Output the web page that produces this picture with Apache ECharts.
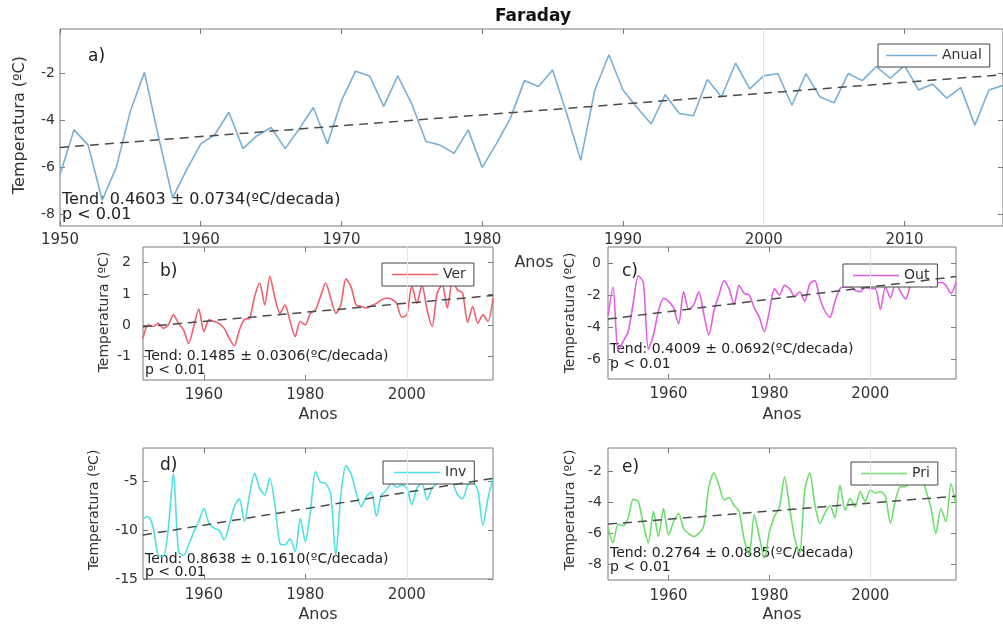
<!DOCTYPE html>
<html>
<head>
<meta charset="utf-8">
<script src="https://cdn.jsdelivr.net/npm/echarts@6/dist/echarts.min.js"></script>
<style>
  html, body { margin: 0; padding: 0; background: #fff; }
  #chart { width: 1003px; height: 627px; }
</style>
</head>
<body>
<div id="chart"></div>
<script>
// anos
const yearsA = [1950, 1951, 1952, 1953, 1954, 1955, 1956, 1957, 1958, 1959,
  1960, 1961, 1962, 1963, 1964, 1965, 1966, 1967, 1968, 1969,
  1970, 1971, 1972, 1973, 1974, 1975, 1976, 1977, 1978, 1979,
  1980, 1981, 1982, 1983, 1984, 1985, 1986, 1987, 1988, 1989,
  1990, 1991, 1992, 1993, 1994, 1995, 1996, 1997, 1998, 1999,
  2000, 2001, 2002, 2003, 2004, 2005, 2006, 2007, 2008, 2009,
  2010, 2011, 2012, 2013, 2014, 2015, 2016, 2017];
const yearsS = [1948, 1949].concat(yearsA);

// temperaturas (ºC)
const anual = [-6.3, -4.4, -5.05, -7.4, -6.0, -3.6, -1.95, -4.7, -7.3, -6.1,
  -5.0, -4.6, -3.65, -5.2, -4.65, -4.3, -5.2, -4.35, -3.45, -5.0,
  -3.15, -1.9, -2.1, -3.4, -2.1, -3.3, -4.9, -5.05, -5.4, -4.4,
  -6.0, -5.0, -3.9, -2.3, -2.55, -1.85, -3.7, -5.7, -2.7, -1.2,
  -2.7, -3.45, -4.15, -2.9, -3.7, -3.8, -2.25, -3.0, -1.55, -2.65,
  -2.1, -2.0, -3.35, -2.0, -3.0, -3.25, -2.0, -2.3, -1.7, -2.2,
  -1.65, -2.7, -2.45, -3.05, -2.6, -4.2, -2.7, -2.5];
const ver = [-0.42, 0.01, -0.04, 0.06, -0.1, 0.01, 0.33, 0.06, -0.15, -0.58,
  -0.04, 0.52, -0.2, 0.17, 0.12, 0.06, -0.1, -0.42, -0.66, -0.15,
  0.19, 0.22, 0.92, 1.35, 0.65, 1.56, 0.87, 0.38, 0.65, 0.12,
  -0.36, 0.12, 0.01, 0.38, 0.49, 0.92, 1.35, 0.87, 0.38, 0.65,
  1.48, 1.24, 0.65, 0.6, 0.55, 0.62, 0.7, 0.81, 0.87, 0.83,
  0.7, 0.26, 0.33, 1.26, 0.7, 1.29, 0.49, -0.04, 1.03, 1.29,
  0.55, 1.4, 1.13, 1.03, 0.09, 0.6, 0.06, 0.33, 0.12, 0.87];
const out = [-3.3, -1.5, -5.5, -4.9, -4.3, -2.5, -0.8, -1.2, -5.4, -4.5,
  -3.0, -2.2, -2.4, -2.8, -3.8, -1.8, -2.9, -2.6, -1.8, -3.2,
  -4.5, -3.0, -2.0, -1.1, -1.6, -2.6, -1.4, -1.9, -2.0, -2.8,
  -3.4, -4.3, -3.0, -1.6, -2.0, -1.4, -1.6, -2.1, -1.8, -2.4,
  -1.3, -1.1, -2.2, -3.0, -3.4, -2.4, -1.6, -1.5, -1.5, -1.7,
  -1.8, -1.5, -1.6, -1.6, -2.9, -1.5, -2.2, -1.3, -1.8, -2.25,
  -1.4, -1.1, -1.4, -1.2, -1.5, -1.3, -1.2, -1.4, -1.9, -1.2];
const inv = [-8.8, -8.6, -9.7, -12.6, -12.7, -9.8, -4.2, -12.2, -12.6, -11.5,
  -10.2, -9.1, -7.8, -9.3, -9.8, -10.0, -11.0, -9.5, -7.6, -6.8,
  -9.1, -6.4, -4.2, -5.7, -6.4, -4.7, -7.4, -11.4, -11.5, -10.9,
  -12.2, -8.8, -11.2, -8.1, -4.0, -5.1, -5.2, -6.3, -12.6, -6.4,
  -3.4, -4.2, -6.1, -7.6, -6.6, -6.1, -8.6, -6.4, -5.9, -5.2,
  -5.6, -5.4, -5.7, -7.4, -5.7, -5.2, -6.9, -5.7, -5.2, -4.7,
  -4.9, -5.1, -6.4, -6.8, -5.4, -5.1, -5.9, -9.5, -6.8, -4.7];
const pri = [-5.6, -6.6, -5.4, -5.5, -5.0, -3.8, -3.95, -5.4, -6.6, -4.6,
  -6.2, -4.4, -6.1, -5.25, -4.7, -5.7, -6.0, -6.2, -6.0, -5.5,
  -3.0, -2.1, -2.9, -3.85, -3.7, -4.2, -4.6, -6.4, -7.4, -4.8,
  -6.2, -7.6, -5.9, -4.9, -4.3, -2.35, -4.3, -6.3, -7.3, -3.2,
  -2.1, -4.1, -5.35, -4.7, -4.2, -5.0, -2.9, -4.5, -3.75, -4.3,
  -3.3, -3.95, -3.2, -3.4, -3.3, -3.6, -5.35, -3.85, -3.0, -3.0,
  -2.55, -2.8, -2.35, -3.2, -4.3, -6.0, -4.4, -5.25, -2.8, -4.2];

// tendência linear: valor no primeiro e no último ano
const trendA = [-5.15, -2.05];
const trendVer = [-0.05, 0.95];
const trendOut = [-3.5, -0.85];
const trendInv = [-10.5, -4.7];
const trendPri = [-5.4, -3.6];

// marcas dos eixos
const ticksXA = [1950, 1960, 1970, 1980, 1990, 2000, 2010];
const ticksXS = [1960, 1980, 2000];
const ticksYA = [-8, -6, -4, -2];
const ticksYVer = [-1, 0, 1, 2];
const ticksYOut = [-6, -4, -2, 0];
const ticksYInv = [-15, -10, -5];
const ticksYPri = [-8, -6, -4, -2];

const textTend = [
  'Tend: 0.4603 ± 0.0734(ºC/decada)',
  'Tend: 0.1485 ± 0.0306(ºC/decada)',
  'Tend: 0.4009 ± 0.0692(ºC/decada)',
  'Tend: 0.8638 ± 0.1610(ºC/decada)',
  'Tend: 0.2764 ± 0.0885(ºC/decada)'
];

const FONT = 'DejaVu Sans';
const AXIS = '#7a7a7a';
const TXT = '#333';

const option = {
  animation: false,
  backgroundColor: '#fff',
  grid: [], xAxis: [], yAxis: [], series: [], legend: [], graphic: []
};

function addPanel(p) {
  const i = option.grid.length;
  option.grid.push(Object.assign({show: true, borderColor: AXIS, borderWidth: 1, backgroundColor: '#fff'}, p.rect));
  const tick = {inside: true, length: 5, lineStyle: {color: AXIS}};
  option.xAxis.push({
    type: 'value', gridIndex: i, min: p.xMin, max: p.xMax, position: 'bottom',
    axisLine: {show: false, onZero: false}, splitLine: {show: false},
    axisTick: Object.assign({customValues: p.xTicks}, tick),
    axisLabel: {customValues: p.xTicks, margin: p.xMargin, color: TXT, fontSize: 15, fontFamily: FONT,
      formatter: v => String(v)}
  }, {
    type: 'value', gridIndex: i, min: p.xMin, max: p.xMax, position: 'top',
    axisLine: {show: false, onZero: false}, splitLine: {show: false},
    axisTick: Object.assign({customValues: p.xTicks}, tick),
    axisLabel: {show: false}
  });
  option.yAxis.push({
    type: 'value', gridIndex: i, min: p.yMin, max: p.yMax, position: 'left',
    axisLine: {show: false, onZero: false}, splitLine: {show: false},
    axisTick: Object.assign({customValues: p.yTicks}, tick),
    axisLabel: {customValues: p.yTicks, margin: p.yMargin, color: TXT, fontSize: 14, fontFamily: FONT}
  }, {
    type: 'value', gridIndex: i, min: p.yMin, max: p.yMax, position: 'right',
    axisLine: {show: false, onZero: false}, splitLine: {show: false},
    axisTick: Object.assign({customValues: p.yTicks}, tick),
    axisLabel: {show: false}
  });
  const n = p.years.length;
  option.series.push({
    name: p.name, type: 'line', xAxisIndex: 2 * i, yAxisIndex: 2 * i,
    data: p.years.map((y, k) => [y, p.values[k]]),
    symbol: 'none', smooth: p.smooth, z: 3,
    lineStyle: {color: p.color, width: 1.6},
    itemStyle: {color: p.color},
    markLine: {
      silent: true, symbol: 'none', label: {show: false},
      lineStyle: {color: '#e4e4e4', type: 'solid', width: 1},
      data: [{xAxis: 2000}]
    }
  }, {
    name: 'trend' + i, type: 'line', xAxisIndex: 2 * i, yAxisIndex: 2 * i,
    data: [[p.years[0], p.trend[0]], [p.years[n - 1], p.trend[1]]],
    symbol: 'none', z: 4,
    lineStyle: {color: '#4a4a4a', width: 1.5, type: [9, 6]}
  });
  option.legend.push({
    data: [p.name], left: p.legend[0], top: p.legend[1],
    orient: 'horizontal', backgroundColor: '#fff',
    borderColor: '#444', borderWidth: 1, borderRadius: 0,
    padding: [4, 8, 4, p.legend[2]], itemWidth: p.legend[3], itemHeight: 1.6,
    icon: 'rect', itemGap: 4,
    textStyle: {color: TXT, fontSize: 14, fontFamily: FONT, lineHeight: 15},
    selectedMode: false
  });
  const g = option.graphic;
  g.push({type: 'text', x: p.letter[0], y: p.letter[1],
    style: {text: p.letter[2], font: '17px "' + FONT + '"', fill: '#222', textVerticalAlign: 'middle'}});
  g.push({type: 'text', x: p.rect.left + 2, y: p.tend[0],
    style: {text: p.tend[2], font: p.tend[3] + 'px "' + FONT + '"', fill: '#222', textVerticalAlign: 'middle'}});
  g.push({type: 'text', x: p.rect.left + 2, y: p.tend[1],
    style: {text: 'p < 0.01', font: p.tend[3] + 'px "' + FONT + '"', fill: '#222', textVerticalAlign: 'middle'}});
  g.push({type: 'text', x: p.ylab[0], y: p.ylab[1], rotation: Math.PI / 2,
    style: {text: 'Temperatura (ºC)', font: p.ylab[2] + 'px "' + FONT + '"', fill: TXT, textAlign: 'center', textVerticalAlign: 'middle'}});
  g.push({type: 'text', x: p.xlab[0], y: p.xlab[1],
    style: {text: 'Anos', font: '16px "' + FONT + '"', fill: TXT, textAlign: 'center', textVerticalAlign: 'middle'}});
}

addPanel({
  rect: {left: 60, top: 29, width: 945, height: 197},
  xMin: 1950, xMax: 2017, yMin: -8.5, yMax: -0.1, xTicks: ticksXA, yTicks: ticksYA,
  xMargin: 7, yMargin: 5, years: yearsA, values: anual, trend: trendA,
  name: 'Anual', color: '#7aafd6', smooth: false,
  legend: [878, 44, 8, 51], letter: [88, 57, 'a)'],
  tend: [200, 215, textTend[0], 16], ylab: [20, 125, 16], xlab: [534, 263]
});
addPanel({
  rect: {left: 143, top: 247, width: 350, height: 133},
  xMin: 1948, xMax: 2017, yMin: -1.75, yMax: 2.5, xTicks: ticksXS, yTicks: ticksYVer,
  xMargin: 8, yMargin: 12, years: yearsS, values: ver, trend: trendVer,
  name: 'Ver', color: '#ef5f6e', smooth: 0.25,
  legend: [382, 263, 10, 46], letter: [160, 272, 'b)'],
  tend: [356, 370, textTend[1], 14], ylab: [104, 312, 14], xlab: [318, 415]
});
addPanel({
  rect: {left: 608, top: 247, width: 348, height: 132},
  xMin: 1948, xMax: 2017, yMin: -7.25, yMax: 1, xTicks: ticksXS, yTicks: ticksYOut,
  xMargin: 8, yMargin: 7, years: yearsS, values: out, trend: trendOut,
  name: 'Out', color: '#e25ee2', smooth: 0.25,
  legend: [843, 264, 10, 46], letter: [622, 272, 'c)'],
  tend: [349, 364, textTend[2], 14], ylab: [570, 313, 14], xlab: [782, 415]
});
addPanel({
  rect: {left: 143, top: 448, width: 350, height: 131},
  xMin: 1948, xMax: 2017, yMin: -15, yMax: -1.6, xTicks: ticksXS, yTicks: ticksYInv,
  xMargin: 9, yMargin: 5, years: yearsS, values: inv, trend: trendInv,
  name: 'Inv', color: '#4fe0e0', smooth: 0.25,
  legend: [383, 461, 11, 46], letter: [160, 466, 'd)'],
  tend: [559, 572, textTend[3], 14], ylab: [94, 510, 14], xlab: [318, 615]
});
addPanel({
  rect: {left: 608, top: 448, width: 348, height: 132},
  xMin: 1948, xMax: 2017, yMin: -9, yMax: -0.5, xTicks: ticksXS, yTicks: ticksYPri,
  xMargin: 9, yMargin: 6, years: yearsS, values: pri, trend: trendPri,
  name: 'Pri', color: '#6ede6e', smooth: 0.25,
  legend: [851, 462, 10, 46], letter: [622, 468, 'e)'],
  tend: [553, 567, textTend[4], 14], ylab: [570, 510, 14], xlab: [782, 615]
});

option.graphic.push({type: 'text', x: 533, y: 17,
  style: {text: 'Faraday', font: 'bold 17px "' + FONT + '"', fill: '#111', textAlign: 'center', textVerticalAlign: 'middle'}});

const chart = echarts.init(document.getElementById('chart'));
chart.setOption(option);
</script>
</body>
</html>
